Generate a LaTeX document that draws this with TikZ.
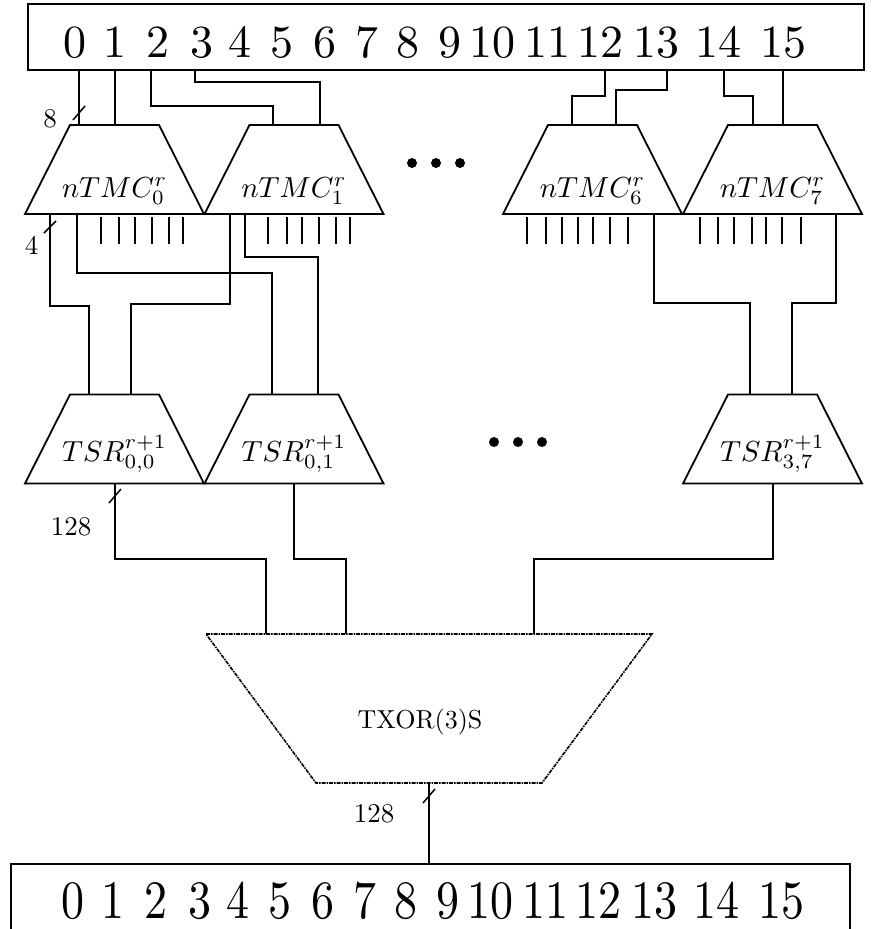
\RequirePackage{fix-cm}
\documentclass[tikz,border=0pt]{standalone}
\usepackage{graphicx}
\tikzset{
  wire/.style={line width=1.8pt},
  tick/.style={line width=1.5pt},
  box/.style={draw, line width=1.4pt, rectangle, inner sep=0pt, outer sep=0pt},
  muxframe/.style={rectangle, minimum width=179pt, minimum height=89pt,
    inner sep=0pt, outer sep=0pt},
  muxline/.style={line width=1.8pt, line join=miter},
  txframe/.style={rectangle, minimum width=446pt, minimum height=149pt,
    inner sep=0pt, outer sep=0pt},
  txline/.style={line width=1.6pt, dash pattern=on 4pt off 1pt on 1.5pt off 1pt},
  bignum/.style={inner sep=0pt, anchor=base west},
  mlabel/.style={inner sep=0pt, anchor=base},
  wlabel/.style={inner sep=0pt},
}
\newcommand{\muxshape}[1]{%
  \draw[muxline] (#1.south west) -- ([xshift=45pt]#1.north west)
    -- ([xshift=-45pt]#1.north east) -- (#1.south east) -- cycle;}
\newcommand{\mtxt}[1]{\scalebox{2.9}{#1}}
\newcommand{\wtxt}[1]{\scalebox{2.7}{#1}}
\newcommand{\digitrow}{0\hspace{3.70pt}1\hspace{4.35pt}2\hspace{4.57pt}3\hspace{3.26pt}4\hspace{4.13pt}5\hspace{4.35pt}6\hspace{4.13pt}7\hspace{3.91pt}8\hspace{4.13pt}9\hspace{1.7pt}10\hspace{1.9pt}11\hspace{1.5pt}12\hspace{2.17pt}13\hspace{3.48pt}14\hspace{4.13pt}15}
\begin{document}
\begin{tikzpicture}[x=1pt, y=-1pt]
\useasboundingbox (0,0) rectangle (883,929);

% top register
\node[box, minimum width=836pt, minimum height=66pt] (top) at (446,37) {};
\node[bignum] (topnums) at (63.5,57) {\scalebox{4.6}{\digitrow}};

% nTMC boxes
\node[muxframe] (m0) at (114.5,169.5) {};
\node[muxframe] (m1) at (294,169.5) {};
\node[muxframe] (m6) at (592.5,169.5) {};
\node[muxframe] (m7) at (772.5,169.5) {};
\muxshape{m0}\muxshape{m1}\muxshape{m6}\muxshape{m7}
\node[mlabel] (lm0) at ([yshift=-27.5pt]m0.center) {\mtxt{$nTMC^r_0$}};
\node[mlabel] (lm1) at ([yshift=-27.5pt]m1.center) {\mtxt{$nTMC^r_1$}};
\node[mlabel] (lm6) at ([yshift=-27.5pt]m6.center) {\mtxt{$nTMC^r_6$}};
\node[mlabel] (lm7) at ([yshift=-27.5pt]m7.center) {\mtxt{$nTMC^r_7$}};

% TSR boxes
\node[muxframe] (t00) at (114.5,439) {};
\node[muxframe] (t01) at (294,439) {};
\node[muxframe] (t37) at (772.5,439) {};
\muxshape{t00}\muxshape{t01}\muxshape{t37}
\node[mlabel] (lt00) at ([yshift=-22pt]t00.center) {\mtxt{$TSR^{r+1}_{0,0}$}};
\node[mlabel] (lt01) at ([yshift=-22pt]t01.center) {\mtxt{$TSR^{r+1}_{0,1}$}};
\node[mlabel] (lt37) at ([yshift=-22pt]t37.center) {\mtxt{$TSR^{r+1}_{3,7}$}};

% TXOR
\node[txframe] (tx) at (429,708.5) {};
\draw[txline] (tx.north west) -- (tx.north east)
  -- ([xshift=-110pt]tx.south east) -- ([xshift=110pt]tx.south west) -- cycle;
\node[inner sep=0pt, anchor=base] (ltx) at ([xshift=-9pt,yshift=-19.5pt]tx.center) {\scalebox{2.6}{TXOR(3)S}};

% bottom register
\node[box, minimum width=839pt, minimum height=100pt] (bot) at (430.5,914) {};
\node[bignum] (botnums) at (61.5,918) {\scalebox{4.6}[5.4]{\digitrow}};

% dots
\fill (412,163) circle (5pt);
\fill (436,163) circle (5pt);
\fill (460,163) circle (5pt);
\fill (494,442) circle (5pt);
\fill (518,442) circle (5pt);
\fill (542,442) circle (5pt);

% top register -> nTMC
\draw[wire] (79,0 |- top.south) -- (79,0 |- m0.north);
\draw[wire] (115,0 |- top.south) -- (115,0 |- m0.north);
\draw[wire] (151,0 |- top.south) -- (151,106) -| (273,0 |- m1.north);
\draw[wire] (195,0 |- top.south) -- (195,82) -| (320,0 |- m1.north);
\draw[wire] (605,0 |- top.south) -- (605,96) -| (572,0 |- m6.north);
\draw[wire] (667,0 |- top.south) -- (667,90) -| (616,0 |- m6.north);
\draw[wire] (724,0 |- top.south) -- (724,96) -| (753,0 |- m7.north);
\draw[wire] (783,0 |- top.south) -- (783,0 |- m7.north);
\draw[tick] (73,120) -- (85,106);
\node[wlabel] (l8) at (50,119) {\wtxt{8}};

% nTMC -> TSR
\draw[wire] (50,0 |- m0.south) -- (50,306) -| (89,0 |- t00.north);
\draw[wire] (77,0 |- m0.south) -- (77,273) -| (272,0 |- t01.north);
\draw[wire] (230,0 |- m1.south) -- (230,304) -| (131,0 |- t00.north);
\draw[wire] (245,0 |- m1.south) -- (245,257) -| (318,0 |- t01.north);
\draw[wire] (654,0 |- m6.south) -- (654,303) -| (750,0 |- t37.north);
\draw[wire] (836,0 |- m7.south) -- (836,303) -| (792,0 |- t37.north);
\draw[tick] (44,233) -- (56,221);
\node[wlabel] (l4) at (31.5,245) {\wtxt{4}};

% unused outputs
\foreach \x in {101,119,135,152,169,183,268,287,302,319,336,350,
                527,546,562,578,593,610,628,700,718,734,752,766,782,801}
  \draw[wire] (\x,217) -- (\x,244);

% TSR -> TXOR
\draw[wire] (115,0 |- t00.south) -- (115,559) -| (266,0 |- tx.north);
\draw[wire] (294,0 |- t01.south) -- (294,559) -| (346,0 |- tx.north);
\draw[wire] (773,0 |- t37.south) -- (773,559) -| (534,0 |- tx.north);
\draw[tick] (109,503) -- (121,489);
\node[wlabel] (l128a) at (71,527) {\wtxt{128}};

% TXOR -> bottom register
\draw[wire] (429,0 |- tx.south) -- (429,0 |- bot.north);
\draw[tick] (423,803) -- (435,789);
\node[wlabel] (l128b) at (374,814) {\wtxt{128}};
\end{tikzpicture}
\end{document}
